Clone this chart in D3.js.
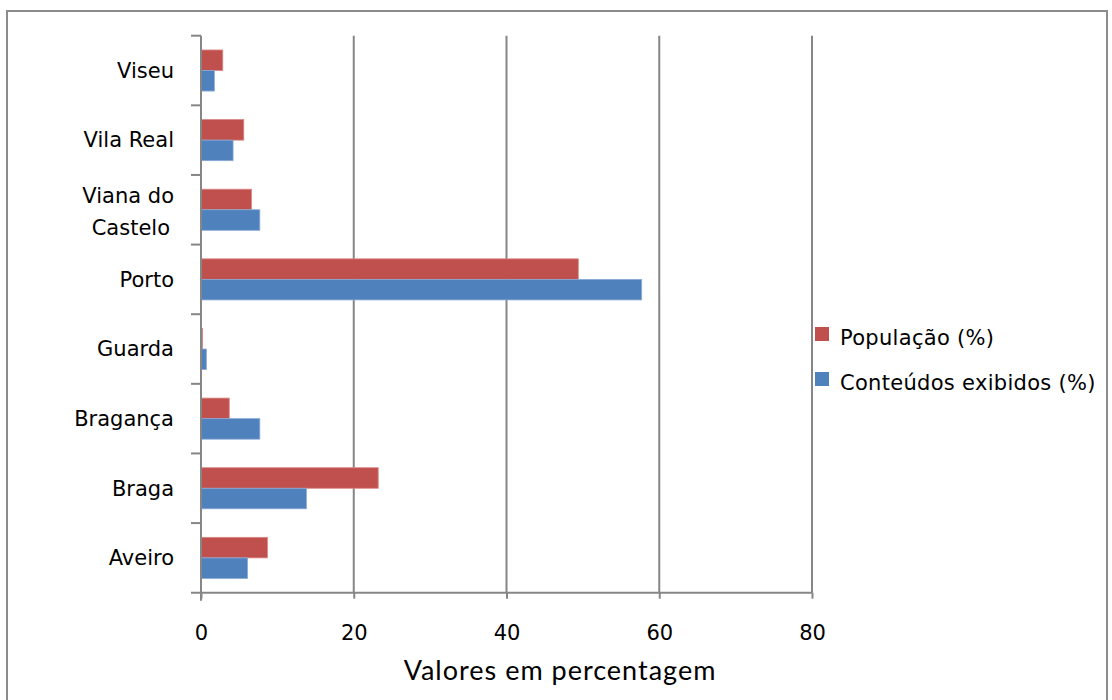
<!DOCTYPE html>
<html>
<head>
<meta charset="utf-8">
<script src="https://cdn.jsdelivr.net/npm/d3@7"></script>
<style>
  body { margin: 0; background: #fff; }
  svg text { font-family: "DejaVu Sans", sans-serif; fill: #000; }
</style>
</head>
<body>
<svg width="1112" height="700"></svg>
<script>
// categories bottom to top as in the chart
var regions = ["Aveiro", "Braga", "Bragança", "Guarda", "Porto", "Viana do Castelo", "Vila Real", "Viseu"];
var populacao = [8.7, 23.2, 3.7, 0.2, 49.4, 6.6, 5.6, 2.85];
var conteudos = [6.1, 13.8, 7.7, 0.7, 57.7, 7.7, 4.2, 1.75];
var seriesNames = ["População (%)", "Conteúdos exibidos (%)"];
var seriesColors = ["#C0504D", "#4F81BD"];
var xTicks = [0, 20, 40, 60, 80];

var svg = d3.select("svg");

// outer chart border
svg.append("rect")
    .attr("x", 7).attr("y", 11)
    .attr("width", 1100).attr("height", 700)
    .attr("fill", "none")
    .attr("stroke", "#8c8c8c")
    .attr("stroke-width", 2);

var plotLeft = 201, plotRight = 812, plotTop = 35.7, plotBottom = 592.7;

var x = d3.scaleLinear().domain([0, 80]).range([plotLeft, plotRight]);
// reversed so Aveiro sits at the bottom
var y = d3.scaleBand().domain(regions.slice().reverse()).range([plotTop, plotBottom]).paddingInner(0.41).paddingOuter(0.205);
var sub = d3.scaleBand().domain([0, 1]).range([0, y.bandwidth()]);

// gridlines
svg.append("g").selectAll("line")
    .data(xTicks.slice(1))
    .enter().append("line")
    .attr("x1", function(d) { return x(d); })
    .attr("x2", function(d) { return x(d); })
    .attr("y1", plotTop).attr("y2", plotBottom)
    .attr("stroke", "#868686")
    .attr("stroke-width", 2);

// bars
var rows = regions.map(function(r, i) { return {region: r, values: [populacao[i], conteudos[i]]}; });
var grp = svg.append("g").selectAll("g")
    .data(rows)
    .enter().append("g")
    .attr("transform", function(d) { return "translate(0," + y(d.region) + ")"; });

grp.selectAll("rect")
    .data(function(d) { return d.values; })
    .enter().append("rect")
    .attr("x", x(0))
    .attr("y", function(d, i) { return sub(i); })
    .attr("width", function(d) { return x(d) - x(0); })
    .attr("height", sub.bandwidth())
    .attr("fill", function(d, i) { return seriesColors[i]; })
    .attr("stroke", function(d, i) { return i == 0 ? "#d98683" : "#8aaad4"; })
    .attr("stroke-width", 0.8);

// x axis
var xAxis = svg.append("g")
    .attr("transform", "translate(0," + plotBottom + ")")
    .call(d3.axisBottom(x).tickValues(xTicks).tickSize(6).tickPadding(26).tickSizeOuter(0));
xAxis.select(".domain").attr("stroke", "#868686").attr("stroke-width", 2)
    .attr("d", "M" + (plotLeft - 10) + ",0H" + plotRight);
xAxis.selectAll(".tick line").attr("stroke", "#868686").attr("stroke-width", 2);
xAxis.selectAll(".tick text").style("font-size", "21px").style("font-family", "DejaVu Sans");

// y axis: ticks at band boundaries
var yAxisG = svg.append("g");
yAxisG.append("line")
    .attr("x1", plotLeft).attr("x2", plotLeft)
    .attr("y1", plotTop).attr("y2", plotBottom + 8)
    .attr("stroke", "#868686").attr("stroke-width", 2);
var step = (plotBottom - plotTop) / regions.length;
yAxisG.selectAll(".yt")
    .data(d3.range(regions.length))
    .enter().append("line")
    .attr("x1", plotLeft - 10).attr("x2", plotLeft)
    .attr("y1", function(d) { return plotTop + d * step; })
    .attr("y2", function(d) { return plotTop + d * step; })
    .attr("stroke", "#868686").attr("stroke-width", 2);

// category labels
svg.append("g").selectAll("text")
    .data(regions)
    .enter().append("text")
    .attr("text-anchor", "end")
    .attr("x", 174)
    .attr("y", function(d) { return y(d) + y.bandwidth() / 2; })
    .style("font-size", "21px")
    .each(function(d) {
      var t = d3.select(this);
      var lines = d == "Viana do Castelo" ? ["Viana do", "Castelo"] : [d];
      lines.forEach(function(s, k) {
        t.append("tspan")
          .attr("x", k == 0 ? 174 : 170)
          .attr("dy", k == 0 ? (lines.length == 1 ? "0.35em" : "-0.3em") : "1.5em")
          .text(s);
      });
    });

// axis title
svg.append("text")
    .attr("x", 560).attr("y", 680)
    .attr("text-anchor", "middle")
    .style("font-family", "Lato, 'Open Sans', sans-serif")
    .style("font-size", "27px")
    .style("letter-spacing", "1px")
    .text("Valores em percentagem");

// legend
var legend = svg.append("g").selectAll("g")
    .data(seriesNames)
    .enter().append("g")
    .attr("transform", function(d, i) { return "translate(815," + (331 + i * 45) + ")"; });
legend.append("rect")
    .attr("x", 0).attr("y", -4)
    .attr("width", 14).attr("height", 14)
    .attr("fill", function(d, i) { return seriesColors[i]; });
legend.append("text")
    .attr("x", 25).attr("y", 7)
    .attr("dy", "0.35em")
    .style("font-size", "21px")
    .style("letter-spacing", "0.3px")
    .text(function(d) { return d; });
</script>
</body>
</html>
